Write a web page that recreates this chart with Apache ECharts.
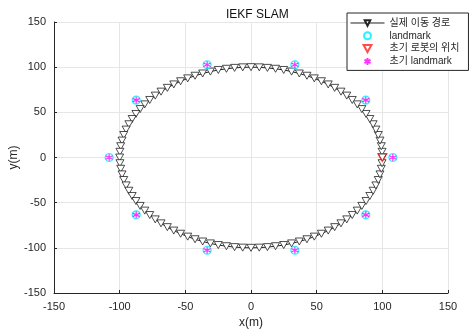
<!DOCTYPE html>
<html>
<head>
<meta charset="utf-8">
<script src="https://cdn.jsdelivr.net/npm/echarts@6/dist/echarts.min.js"></script>
<style>html,body{margin:0;padding:0;background:#fff;}#c{width:473px;height:332px;}</style>
</head>
<body>
<div id="c"></div>
<script>
// Robot path (실제 이동 경로)
const pathX = [100, 99.8, 99.2, 98.2, 96.9, 95.1, 93.0, 90.5, 87.6, 84.4, 80.9, 77.1, 72.9, 68.5, 63.7, 58.8, 53.6, 48.2, 42.6, 36.8, 30.9, 24.9, 18.7, 12.5, 6.3, 0,
  -6.3, -12.5, -18.7, -24.9, -30.9, -36.8, -42.6, -48.2, -53.6, -58.8, -63.7, -68.5, -72.9, -77.1, -80.9, -84.4, -87.6, -90.5, -93.0, -95.1, -96.9, -98.2, -99.2, -99.8, -100,
  -99.8, -99.2, -98.2, -96.9, -95.1, -93.0, -90.5, -87.6, -84.4, -80.9, -77.1, -72.9, -68.5, -63.7, -58.8, -53.6, -48.2, -42.6, -36.8, -30.9, -24.9, -18.7, -12.5, -6.3, 0,
  6.3, 12.5, 18.7, 24.9, 30.9, 36.8, 42.6, 48.2, 53.6, 58.8, 63.7, 68.5, 72.9, 77.1, 80.9, 84.4, 87.6, 90.5, 93.0, 95.1, 96.9, 98.2, 99.2, 99.8, 100];
const pathY = [0, 6.3, 12.5, 18.7, 24.9, 30.9, 36.8, 42.6, 48.2, 53.6, 58.8, 63.7, 68.5, 72.9, 77.1, 80.9, 84.4, 87.6, 90.5, 93.0, 95.1, 96.9, 98.2, 99.2, 99.8, 100,
  99.8, 99.2, 98.2, 96.9, 95.1, 93.0, 90.5, 87.6, 84.4, 80.9, 77.1, 72.9, 68.5, 63.7, 58.8, 53.6, 48.2, 42.6, 36.8, 30.9, 24.9, 18.7, 12.5, 6.3, 0,
  -6.3, -12.5, -18.7, -24.9, -30.9, -36.8, -42.6, -48.2, -53.6, -58.8, -63.7, -68.5, -72.9, -77.1, -80.9, -84.4, -87.6, -90.5, -93.0, -95.1, -96.9, -98.2, -99.2, -99.8, -100,
  -99.8, -99.2, -98.2, -96.9, -95.1, -93.0, -90.5, -87.6, -84.4, -80.9, -77.1, -72.9, -68.5, -63.7, -58.8, -53.6, -48.2, -42.6, -36.8, -30.9, -24.9, -18.7, -12.5, -6.3, 0];
// Landmarks
const landmarkX = [108, 87.4, 33.4, -33.4, -87.4, -108, -87.4, -33.4, 33.4, 87.4];
const landmarkY = [0, 63.5, 102.7, 102.7, 63.5, 0, -63.5, -102.7, -102.7, -63.5];
// Initial robot position
const startX = [100];
const startY = [0];
// Axis ticks
const tickMin = -150, tickMax = 150, tickStep = 50;

const seriesNames = ['실제 이동 경로', 'landmark', '초기 로봇의 위치', '초기 landmark'];
const zip = (a, b) => a.map((v, i) => [v, b[i]]);

const downTri = 'path://M0,0L10,0L5,9Z';
const asterisk = 'path://M5,0L5,10M0.67,2.5L9.33,7.5M0.67,7.5L9.33,2.5';
const font = '"Liberation Sans", Arial, "Noto Sans CJK KR", sans-serif';
const axisColor = '#262626';

const chart = echarts.init(document.getElementById('c'), null, {renderer: 'canvas'});
const axisCommon = {
  type: 'value', min: tickMin, max: tickMax, interval: tickStep,
  axisLine: {show: true, onZero: false, lineStyle: {color: axisColor, width: 1}},
  axisTick: {show: true, inside: true, length: 3, lineStyle: {color: axisColor}},
  axisLabel: {color: axisColor, fontSize: 11, fontFamily: font, margin: 8},
  splitLine: {show: true, lineStyle: {color: '#e6e6e6', width: 1}},
  nameLocation: 'middle',
  nameTextStyle: {color: axisColor, fontSize: 12, fontFamily: font}
};
chart.setOption({
  animation: false,
  backgroundColor: '#fff',
  title: {
    text: 'IEKF SLAM', left: 221, top: 4,
    textStyle: {fontSize: 12, fontWeight: 'normal', color: '#111', fontFamily: font}
  },
  grid: {left: 54, right: 25, top: 22, bottom: 39, containLabel: false, outerBoundsMode: 'none'},
  xAxis: Object.assign({}, axisCommon, {name: 'x(m)', nameGap: 20}),
  yAxis: Object.assign({}, axisCommon, {name: 'y(m)', nameGap: 34, nameMoveOverlap: false}),
  legend: {
    orient: 'vertical', left: 347, top: 13,
    data: seriesNames,
    itemWidth: 34, itemHeight: 7, itemGap: 2.8,
    padding: [5, 9, 4, 3],
    backgroundColor: '#fff', borderColor: axisColor, borderWidth: 1,
    lineStyle: {width: 1},
    textStyle: {fontSize: 10, color: axisColor, fontFamily: font}
  },
  series: [
    {
      name: seriesNames[0], type: 'line', data: zip(pathX, pathY),
      symbol: downTri, symbolSize: [8, 7], showAllSymbol: true,
      lineStyle: {color: '#222', width: 1},
      itemStyle: {color: '#fff', borderColor: '#222', borderWidth: 0.8},
      z: 2
    },
    {
      name: seriesNames[1], type: 'scatter', data: zip(landmarkX, landmarkY),
      symbol: 'circle', symbolSize: 8,
      itemStyle: {color: 'rgba(200,255,255,0.6)', borderColor: '#00eaff', borderWidth: 1.2},
      z: 3
    },
    {
      name: seriesNames[2], type: 'scatter', data: zip(startX, startY),
      symbol: downTri, symbolSize: [9, 8],
      itemStyle: {color: 'rgba(0,0,0,0)', borderColor: '#ff2020', borderWidth: 1.2},
      z: 4
    },
    {
      name: seriesNames[3], type: 'scatter', data: zip(landmarkX, landmarkY),
      symbol: asterisk, symbolSize: 7,
      itemStyle: {color: 'rgba(0,0,0,0)', borderColor: '#ff00ff', borderWidth: 1.2},
      z: 5
    }
  ]
});
</script>
</body>
</html>
